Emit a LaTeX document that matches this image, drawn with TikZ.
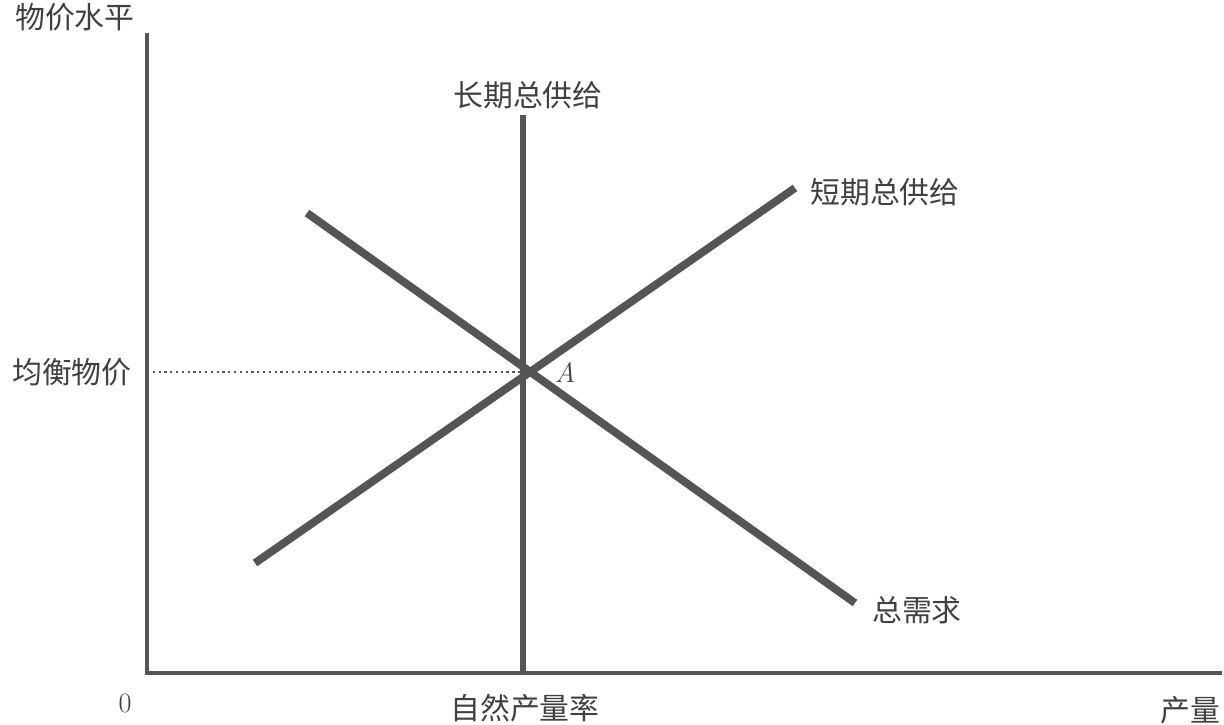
\documentclass[tikz,border=0pt]{standalone}
\usepackage{fontspec}
\newfontfamily\cjk{Noto Sans CJK SC}
\usetikzlibrary{positioning}
\definecolor{curvegray}{HTML}{555555}
\tikzset{
    curve/.style={line width=4.5pt, curvegray},
    axis/.style={line width=2.2pt, curvegray},
    lbl/.style={font=\cjk\fontsize{17}{20}\selectfont, text=black!75, inner sep=1pt}
}
\begin{document}
\begin{tikzpicture}[x=0.02cm, y=-0.02cm]
            \useasboundingbox (0,0) rectangle (1224,724);
            % define point
            \coordinate (O)  at (147, 673);
            \coordinate (Ytop)  at (147, 33);
            \coordinate (Xend)  at (1222, 673);
            \coordinate (A)  at (523, 372);
            \coordinate (Pe)  at (147, 372);
            \coordinate (LRtop)  at (523, 115);
            \coordinate (LRbot)  at (523, 673);
            \coordinate (SRlo)  at (255, 563);
            \coordinate (SRhi)  at (795, 188);
            \coordinate (ADhi)  at (307, 213);
            \coordinate (ADlo)  at (855, 603);
            % axes
            \draw[axis] (Ytop) -- (O) -- (Xend);
            \draw[dotted, line width=1.3pt, curvegray] (Pe) -- (A);
            % curves
            \draw[line width=3.5pt, curvegray] (LRtop) -- (LRbot);
            \draw[curve] (SRlo) -- (SRhi);
            \draw[curve] (ADhi) -- (ADlo);
            % labels
            \node[lbl] (py) at (75, 17) {物价水平};
            \node[lbl] (pe) at (72, 372) {均衡物价};
            \node[lbl] (lras) at (528, 95) {长期总供给};
            \node[lbl] (sras) at (885, 192) {短期总供给};
            \node[lbl] (ad) at (917, 610) {总需求};
            \node[font=\itshape\fontsize{16}{18}\selectfont, text=black!75] (a) at (565, 372) {A};
            \node[font=\fontsize{16}{18}\selectfont, text=black!75] (zero) at (125, 703) {0};
            \node[lbl] (yn) at (525, 708) {自然产量率};
            \node[lbl] (qy) at (1190, 710) {产量};
\end{tikzpicture}
\end{document}
